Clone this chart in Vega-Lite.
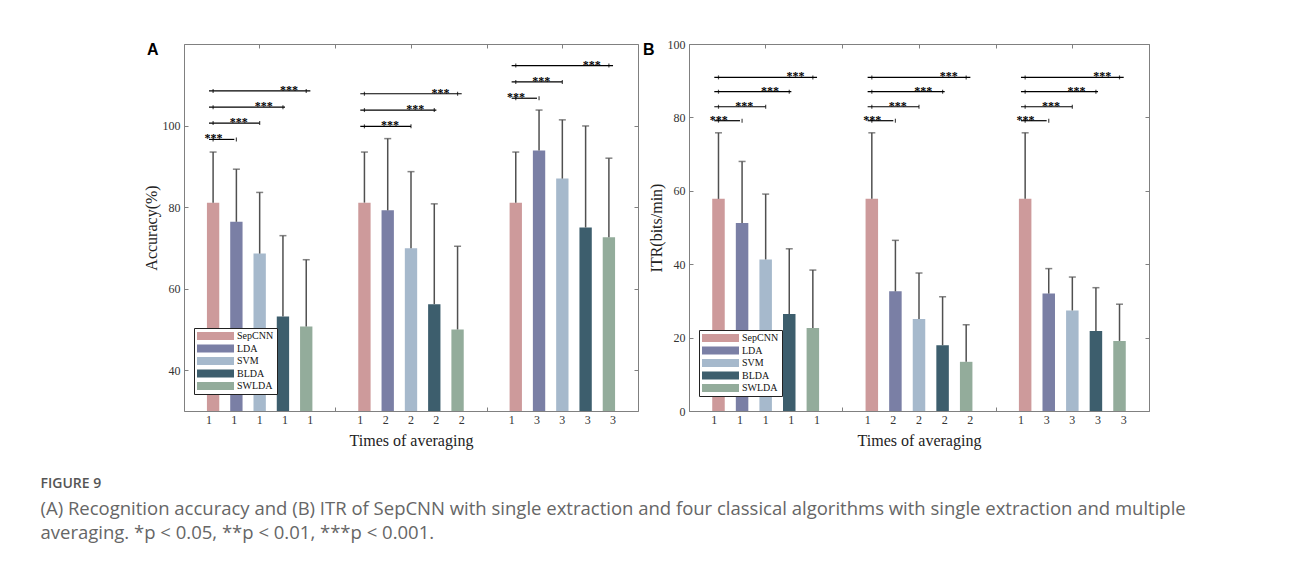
{
  "$schema": "https://vega.github.io/schema/vega-lite/v6.json",
  "background": "white",
  "autosize": {"type": "pad"},
  "padding": {"left": 40, "top": 37, "right": 5, "bottom": 5},
  "title": {
    "text": "FIGURE 9",
    "subtitle": ["(A) Recognition accuracy and (B) ITR of SepCNN with single extraction and four classical algorithms with single extraction and multiple", "averaging. *p < 0.05, **p < 0.01, ***p < 0.001."],
    "orient": "bottom", "anchor": "start", "frame": "bounds", "offset": 28, "dx": -102,
    "font": "Open Sans", "fontSize": 14, "fontWeight": 600, "color": "#555",
    "subtitleFont": "Open Sans", "subtitleFontSize": 18.5, "subtitleColor": "#666", "subtitleLineHeight": 23.5, "subtitlePadding": 9
  },
  "datasets": {
    "bars": [
      {"panel": "A", "group": "1", "method": "SepCNN", "avg": "1", "mean": 81.1, "upper": 93.5},
      {"panel": "A", "group": "1", "method": "LDA", "avg": "1", "mean": 76.4, "upper": 89.3},
      {"panel": "A", "group": "1", "method": "SVM", "avg": "1", "mean": 68.6, "upper": 83.6},
      {"panel": "A", "group": "1", "method": "BLDA", "avg": "1", "mean": 53.2, "upper": 73.0},
      {"panel": "A", "group": "1", "method": "SWLDA", "avg": "1", "mean": 50.7, "upper": 67.1},
      {"panel": "A", "group": "2", "method": "SepCNN", "avg": "1", "mean": 81.1, "upper": 93.5},
      {"panel": "A", "group": "2", "method": "LDA", "avg": "2", "mean": 79.2, "upper": 96.8},
      {"panel": "A", "group": "2", "method": "SVM", "avg": "2", "mean": 69.9, "upper": 88.7},
      {"panel": "A", "group": "2", "method": "BLDA", "avg": "2", "mean": 56.2, "upper": 80.8},
      {"panel": "A", "group": "2", "method": "SWLDA", "avg": "2", "mean": 50.0, "upper": 70.4},
      {"panel": "A", "group": "3", "method": "SepCNN", "avg": "1", "mean": 81.1, "upper": 93.5},
      {"panel": "A", "group": "3", "method": "LDA", "avg": "3", "mean": 93.9, "upper": 103.8},
      {"panel": "A", "group": "3", "method": "SVM", "avg": "3", "mean": 87.0, "upper": 101.4},
      {"panel": "A", "group": "3", "method": "BLDA", "avg": "3", "mean": 75.0, "upper": 99.9},
      {"panel": "A", "group": "3", "method": "SWLDA", "avg": "3", "mean": 72.6, "upper": 92.0},
      {"panel": "B", "group": "1", "method": "SepCNN", "avg": "1", "mean": 57.8, "upper": 75.8},
      {"panel": "B", "group": "1", "method": "LDA", "avg": "1", "mean": 51.2, "upper": 68.0},
      {"panel": "B", "group": "1", "method": "SVM", "avg": "1", "mean": 41.3, "upper": 59.1},
      {"panel": "B", "group": "1", "method": "BLDA", "avg": "1", "mean": 26.4, "upper": 44.2},
      {"panel": "B", "group": "1", "method": "SWLDA", "avg": "1", "mean": 22.6, "upper": 38.4},
      {"panel": "B", "group": "2", "method": "SepCNN", "avg": "1", "mean": 57.8, "upper": 75.8},
      {"panel": "B", "group": "2", "method": "LDA", "avg": "2", "mean": 32.6, "upper": 46.5},
      {"panel": "B", "group": "2", "method": "SVM", "avg": "2", "mean": 25.1, "upper": 37.6},
      {"panel": "B", "group": "2", "method": "BLDA", "avg": "2", "mean": 17.9, "upper": 31.1},
      {"panel": "B", "group": "2", "method": "SWLDA", "avg": "2", "mean": 13.4, "upper": 23.5},
      {"panel": "B", "group": "3", "method": "SepCNN", "avg": "1", "mean": 57.8, "upper": 75.8},
      {"panel": "B", "group": "3", "method": "LDA", "avg": "3", "mean": 32.0, "upper": 38.8},
      {"panel": "B", "group": "3", "method": "SVM", "avg": "3", "mean": 27.4, "upper": 36.5},
      {"panel": "B", "group": "3", "method": "BLDA", "avg": "3", "mean": 21.8, "upper": 33.6},
      {"panel": "B", "group": "3", "method": "SWLDA", "avg": "3", "mean": 19.1, "upper": 29.1}
    ],
    "brackets": [
      {"panel": "A", "group": "1", "from": "SepCNN", "vs": "LDA", "level": 96.6, "sig": "***"},
      {"panel": "A", "group": "1", "from": "SepCNN", "vs": "SVM", "level": 100.6, "sig": "***"},
      {"panel": "A", "group": "1", "from": "SepCNN", "vs": "BLDA", "level": 104.5, "sig": "***"},
      {"panel": "A", "group": "1", "from": "SepCNN", "vs": "SWLDA", "level": 108.5, "sig": "***"},
      {"panel": "A", "group": "2", "from": "SepCNN", "vs": "SVM", "level": 99.8, "sig": "***"},
      {"panel": "A", "group": "2", "from": "SepCNN", "vs": "BLDA", "level": 103.8, "sig": "***"},
      {"panel": "A", "group": "2", "from": "SepCNN", "vs": "SWLDA", "level": 107.8, "sig": "***"},
      {"panel": "A", "group": "3", "from": "SepCNN", "vs": "LDA", "level": 106.7, "sig": "***"},
      {"panel": "A", "group": "3", "from": "SepCNN", "vs": "SVM", "level": 110.7, "sig": "***"},
      {"panel": "A", "group": "3", "from": "SepCNN", "vs": "SWLDA", "level": 114.7, "sig": "***"},
      {"panel": "B", "group": "1", "from": "SepCNN", "vs": "LDA", "level": 79.1, "sig": "***"},
      {"panel": "B", "group": "1", "from": "SepCNN", "vs": "SVM", "level": 82.9, "sig": "***"},
      {"panel": "B", "group": "1", "from": "SepCNN", "vs": "BLDA", "level": 87.0, "sig": "***"},
      {"panel": "B", "group": "1", "from": "SepCNN", "vs": "SWLDA", "level": 90.9, "sig": "***"},
      {"panel": "B", "group": "2", "from": "SepCNN", "vs": "LDA", "level": 79.1, "sig": "***"},
      {"panel": "B", "group": "2", "from": "SepCNN", "vs": "SVM", "level": 82.9, "sig": "***"},
      {"panel": "B", "group": "2", "from": "SepCNN", "vs": "BLDA", "level": 87.0, "sig": "***"},
      {"panel": "B", "group": "2", "from": "SepCNN", "vs": "SWLDA", "level": 90.9, "sig": "***"},
      {"panel": "B", "group": "3", "from": "SepCNN", "vs": "LDA", "level": 79.1, "sig": "***"},
      {"panel": "B", "group": "3", "from": "SepCNN", "vs": "SVM", "level": 82.9, "sig": "***"},
      {"panel": "B", "group": "3", "from": "SepCNN", "vs": "BLDA", "level": 87.0, "sig": "***"},
      {"panel": "B", "group": "3", "from": "SepCNN", "vs": "SWLDA", "level": 90.9, "sig": "***"}
    ]
  },
  "bounds": "flush",
  "spacing": 51,
  "resolve": {
    "scale": {"color": "independent", "y": "independent", "x": "independent", "xOffset": "independent"},
    "legend": {"color": "independent"},
    "axis": {"x": "independent", "y": "independent"}
  },
  "hconcat": [
    {
      "width": 454, "height": 367,
      "title": {"text": "A", "anchor": "start", "frame": "bounds", "orient": "top", "offset": 0, "baseline": "alphabetic", "dy": 27, "dx": 4, "font": "Liberation Sans", "fontSize": 16, "fontWeight": "bold", "color": "#000"},
      "resolve": {"scale": {"xOffset": "independent"}, "axis": {"x": "independent", "y": "independent"}},
      "layer": [
        {
          "data": {"name": "bars"},
          "transform": [{"filter": "datum.panel == 'A'"}],
          "mark": {"type": "bar", "clip": true},
          "encoding": {
            "x": {"field": "group", "type": "nominal", "scale": {"type": "band", "paddingInner": 0, "paddingOuter": 0}, "axis": {"orient": "bottom", "tickBand": "extent", "labels": false, "ticks": true, "tickSize": -4, "title": "Times of averaging", "titlePadding": 21}},
            "xOffset": {"field": "method", "type": "nominal", "scale": {"domain": ["SepCNN", "LDA", "SVM", "BLDA", "SWLDA"], "paddingInner": 0.47, "paddingOuter": 0.985}},
            "y": {"field": "mean", "type": "quantitative", "scale": {"domain": [30, 120], "nice": false, "zero": false}, "axis": {"orient": "left", "values": [40, 60, 80, 100], "tickSize": -4, "labelPadding": 8, "title": "Accuracy(%)", "titlePadding": 3}},
            "color": {"field": "method", "type": "nominal", "scale": {"domain": ["SepCNN", "LDA", "SVM", "BLDA", "SWLDA"], "range": ["#CD9A9B", "#7A7FA5", "#A6B9CC", "#3D5E6D", "#93AC9B"]},
              "legend": {"orient": "none", "legendX": 10, "legendY": 284, "title": null, "padding": 3, "strokeColor": "#222", "fillColor": "#fff", "symbolType": "M-1,-0.8H6.4V0.8H-1Z", "symbolSize": 100, "symbolStrokeWidth": 0, "symbolOpacity": 1, "labelFont": "Liberation Serif", "labelFontSize": 10, "labelColor": "#111", "rowPadding": 2.5, "labelOffset": 30}}
          }
        },
        {
          "data": {"name": "bars"},
          "transform": [{"filter": "datum.panel == 'A'"}],
          "mark": {"type": "rule", "color": "#505050", "strokeWidth": 1.5},
          "encoding": {
            "x": {"field": "group", "type": "nominal", "axis": {"orient": "top", "labels": false, "ticks": true, "tickSize": -4, "title": null}},
            "xOffset": {"field": "method", "type": "nominal", "scale": {"domain": ["SepCNN", "LDA", "SVM", "BLDA", "SWLDA"], "paddingInner": 0.47, "paddingOuter": 0.985}},
            "y": {"field": "mean", "type": "quantitative", "axis": {"orient": "right", "values": [40, 60, 80, 100], "labels": false, "tickSize": -4, "title": null, "minExtent": 0}},
            "y2": {"field": "upper"}
          }
        },
        {
          "data": {"name": "bars"},
          "transform": [{"filter": "datum.panel == 'A'"}],
          "mark": {"type": "tick", "orient": "horizontal", "size": 7, "thickness": 1.5, "color": "#505050"},
          "encoding": {
            "x": {"field": "group", "type": "nominal", "axis": {"orient": "top", "tickBand": "extent", "labels": false, "ticks": true, "tickSize": -4, "title": null}},
            "xOffset": {"field": "method", "type": "nominal", "scale": {"domain": ["SepCNN", "LDA", "SVM", "BLDA", "SWLDA"], "paddingInner": 0.47, "paddingOuter": 0.985}},
            "y": {"field": "upper", "type": "quantitative", "axis": null}
          }
        },
        {
          "data": {"name": "bars"},
          "transform": [{"filter": "datum.panel == 'A'"}],
          "mark": {"type": "text", "baseline": "top", "dy": 4, "font": "Liberation Serif", "fontSize": 12, "color": "#333"},
          "encoding": {
            "x": {"field": "group", "type": "nominal", "axis": null},
            "xOffset": {"field": "method", "type": "nominal", "scale": {"domain": ["SepCNN", "LDA", "SVM", "BLDA", "SWLDA"], "paddingInner": 0.47, "paddingOuter": 0.985}},
            "y": {"datum": 30, "type": "quantitative", "axis": null},
            "text": {"field": "avg"}
          }
        },
        {
          "data": {"name": "brackets"},
          "transform": [{"filter": "datum.panel == 'A'"}, {"fold": ["from", "vs"], "as": ["end", "m"]}],
          "mark": {"type": "line", "color": "#000", "strokeWidth": 1.2},
          "encoding": {
            "x": {"field": "group", "type": "nominal", "axis": null},
            "xOffset": {"field": "m", "type": "nominal", "scale": {"domain": ["SepCNN", "LDA", "SVM", "BLDA", "SWLDA"], "paddingInner": 0.47, "paddingOuter": 0.985}},
            "y": {"field": "level", "type": "quantitative", "axis": null},
            "detail": [{"field": "group"}, {"field": "vs"}]
          }
        },
        {
          "data": {"name": "brackets"},
          "transform": [{"filter": "datum.panel == 'A'"}, {"fold": ["from", "vs"], "as": ["end", "m"]}],
          "mark": {"type": "tick", "orient": "vertical", "size": 4, "thickness": 1.2, "color": "#000"},
          "encoding": {
            "x": {"field": "group", "type": "nominal", "axis": null},
            "xOffset": {"field": "m", "type": "nominal", "scale": {"domain": ["SepCNN", "LDA", "SVM", "BLDA", "SWLDA"], "paddingInner": 0.47, "paddingOuter": 0.985}},
            "y": {"field": "level", "type": "quantitative", "axis": null}
          }
        },
        {
          "data": {"name": "brackets"},
          "transform": [{"filter": "datum.panel == 'A'"}],
          "mark": {"type": "text", "baseline": "alphabetic", "dy": 3, "font": "Liberation Serif", "fontSize": 12, "fontWeight": "bold", "color": "#000"},
          "encoding": {
            "x": {"field": "group", "type": "nominal", "axis": null},
            "xOffset": {"field": "vs", "type": "nominal", "scale": {"type": "band", "domain": ["LDA", "SVM", "BLDA", "SWLDA"], "paddingInner": 0, "paddingOuter": 4.5, "align": 0.3333}},
            "y": {"field": "level", "type": "quantitative", "axis": null},
            "text": {"field": "sig"}
          }
        }
      ]
    },
    {
      "width": 460, "height": 367,
      "title": {"text": "B", "anchor": "start", "frame": "bounds", "orient": "top", "offset": 0, "baseline": "alphabetic", "dy": 33, "dx": -5, "font": "Liberation Sans", "fontSize": 16, "fontWeight": "bold", "color": "#000"},
      "resolve": {"scale": {"xOffset": "independent"}, "axis": {"x": "independent", "y": "independent"}},
      "layer": [
        {
          "data": {"name": "bars"},
          "transform": [{"filter": "datum.panel == 'B'"}],
          "mark": {"type": "bar", "clip": true},
          "encoding": {
            "x": {"field": "group", "type": "nominal", "scale": {"type": "band", "paddingInner": 0, "paddingOuter": 0}, "axis": {"orient": "bottom", "tickBand": "extent", "labels": false, "ticks": true, "tickSize": -4, "title": "Times of averaging", "titlePadding": 21}},
            "xOffset": {"field": "method", "type": "nominal", "scale": {"domain": ["SepCNN", "LDA", "SVM", "BLDA", "SWLDA"], "paddingInner": 0.47, "paddingOuter": 0.985}},
            "y": {"field": "mean", "type": "quantitative", "scale": {"domain": [0, 100], "nice": false, "zero": true}, "axis": {"orient": "left", "values": [0, 20, 40, 60, 80, 100], "tickSize": -4, "labelPadding": 8, "title": "ITR(bits/min)", "titlePadding": 3}},
            "color": {"field": "method", "type": "nominal", "scale": {"domain": ["SepCNN", "LDA", "SVM", "BLDA", "SWLDA"], "range": ["#CD9A9B", "#7A7FA5", "#A6B9CC", "#3D5E6D", "#93AC9B"]},
              "legend": {"orient": "none", "legendX": 10, "legendY": 286, "title": null, "padding": 3, "strokeColor": "#222", "fillColor": "#fff", "symbolType": "M-1,-0.8H6.4V0.8H-1Z", "symbolSize": 100, "symbolStrokeWidth": 0, "symbolOpacity": 1, "labelFont": "Liberation Serif", "labelFontSize": 10, "labelColor": "#111", "rowPadding": 2.5, "labelOffset": 30}}
          }
        },
        {
          "data": {"name": "bars"},
          "transform": [{"filter": "datum.panel == 'B'"}],
          "mark": {"type": "rule", "color": "#505050", "strokeWidth": 1.5},
          "encoding": {
            "x": {"field": "group", "type": "nominal", "axis": {"orient": "top", "labels": false, "ticks": true, "tickSize": -4, "title": null}},
            "xOffset": {"field": "method", "type": "nominal", "scale": {"domain": ["SepCNN", "LDA", "SVM", "BLDA", "SWLDA"], "paddingInner": 0.47, "paddingOuter": 0.985}},
            "y": {"field": "mean", "type": "quantitative", "axis": {"orient": "right", "values": [0, 20, 40, 60, 80, 100], "labels": false, "tickSize": -4, "title": null, "minExtent": 0}},
            "y2": {"field": "upper"}
          }
        },
        {
          "data": {"name": "bars"},
          "transform": [{"filter": "datum.panel == 'B'"}],
          "mark": {"type": "tick", "orient": "horizontal", "size": 7, "thickness": 1.5, "color": "#505050"},
          "encoding": {
            "x": {"field": "group", "type": "nominal", "axis": {"orient": "top", "tickBand": "extent", "labels": false, "ticks": true, "tickSize": -4, "title": null}},
            "xOffset": {"field": "method", "type": "nominal", "scale": {"domain": ["SepCNN", "LDA", "SVM", "BLDA", "SWLDA"], "paddingInner": 0.47, "paddingOuter": 0.985}},
            "y": {"field": "upper", "type": "quantitative", "axis": null}
          }
        },
        {
          "data": {"name": "bars"},
          "transform": [{"filter": "datum.panel == 'B'"}],
          "mark": {"type": "text", "baseline": "top", "dy": 4, "font": "Liberation Serif", "fontSize": 12, "color": "#333"},
          "encoding": {
            "x": {"field": "group", "type": "nominal", "axis": null},
            "xOffset": {"field": "method", "type": "nominal", "scale": {"domain": ["SepCNN", "LDA", "SVM", "BLDA", "SWLDA"], "paddingInner": 0.47, "paddingOuter": 0.985}},
            "y": {"datum": 0, "type": "quantitative", "axis": null},
            "text": {"field": "avg"}
          }
        },
        {
          "data": {"name": "brackets"},
          "transform": [{"filter": "datum.panel == 'B'"}, {"fold": ["from", "vs"], "as": ["end", "m"]}],
          "mark": {"type": "line", "color": "#000", "strokeWidth": 1.2},
          "encoding": {
            "x": {"field": "group", "type": "nominal", "axis": null},
            "xOffset": {"field": "m", "type": "nominal", "scale": {"domain": ["SepCNN", "LDA", "SVM", "BLDA", "SWLDA"], "paddingInner": 0.47, "paddingOuter": 0.985}},
            "y": {"field": "level", "type": "quantitative", "axis": null},
            "detail": [{"field": "group"}, {"field": "vs"}]
          }
        },
        {
          "data": {"name": "brackets"},
          "transform": [{"filter": "datum.panel == 'B'"}, {"fold": ["from", "vs"], "as": ["end", "m"]}],
          "mark": {"type": "tick", "orient": "vertical", "size": 4, "thickness": 1.2, "color": "#000"},
          "encoding": {
            "x": {"field": "group", "type": "nominal", "axis": null},
            "xOffset": {"field": "m", "type": "nominal", "scale": {"domain": ["SepCNN", "LDA", "SVM", "BLDA", "SWLDA"], "paddingInner": 0.47, "paddingOuter": 0.985}},
            "y": {"field": "level", "type": "quantitative", "axis": null}
          }
        },
        {
          "data": {"name": "brackets"},
          "transform": [{"filter": "datum.panel == 'B'"}],
          "mark": {"type": "text", "baseline": "alphabetic", "dy": 3, "font": "Liberation Serif", "fontSize": 12, "fontWeight": "bold", "color": "#000"},
          "encoding": {
            "x": {"field": "group", "type": "nominal", "axis": null},
            "xOffset": {"field": "vs", "type": "nominal", "scale": {"type": "band", "domain": ["LDA", "SVM", "BLDA", "SWLDA"], "paddingInner": 0, "paddingOuter": 4.5, "align": 0.3333}},
            "y": {"field": "level", "type": "quantitative", "axis": null},
            "text": {"field": "sig"}
          }
        }
      ]
    }
  ],
  "config": {
    "font": "Liberation Serif",
    "view": {"stroke": "#808080", "strokeWidth": 1},
    "axis": {"labelFont": "Liberation Serif", "labelFontSize": 12, "labelColor": "#333", "titleFont": "Liberation Serif", "titleFontSize": 16, "titleFontWeight": "normal", "titleColor": "#222", "tickColor": "#808080", "tickWidth": 1, "grid": false, "domain": false}
  }
}
